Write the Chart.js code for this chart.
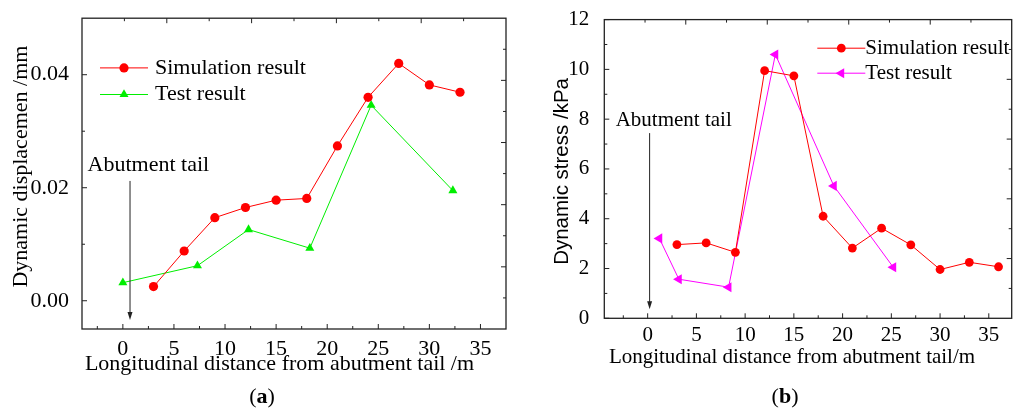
<!DOCTYPE html>
<html>
<head>
<meta charset="utf-8">
<script src="https://cdn.jsdelivr.net/npm/chart.js@4/dist/chart.umd.min.js"></script>
<style>
  body { margin: 0; background: #fff; width: 1026px; height: 410px; overflow: hidden; position: relative; }
  canvas { position: absolute; top: 0; }
  #dispChart { left: 0; }
  #stressChart { left: 513px; }
  .cap { position: absolute; top: 383px; width: 60px; text-align: center; font: 22px 'Liberation Serif', serif; line-height: 26px; color: #000; }
</style>
</head>
<body>
<canvas id="dispChart" width="513" height="410"></canvas>
<canvas id="stressChart" width="513" height="410"></canvas>
<div class="cap" style="left:232px">(<b>a</b>)</div>
<div class="cap" style="left:755px">(<b>b</b>)</div>
<script>
const serif = "'Liberation Serif', 'Times New Roman', serif"
const sans = "'Liberation Sans', Arial, sans-serif"

// (a) dynamic displacement along the road
const dispSimX = [3, 6, 9, 12, 15, 18, 21, 24, 27, 30, 33]
const dispSimY = [0.0025, 0.0088, 0.0147, 0.0165, 0.0178, 0.0181, 0.0274, 0.0360, 0.0420, 0.0382, 0.0369]
const dispTestX = [0, 7.3, 12.3, 18.3, 24.3, 32.3]
const dispTestY = [0.0032, 0.0062, 0.0126, 0.0093, 0.0346, 0.0195]

// (b) dynamic stress along the road
const stressSimX = [3, 6, 9, 12, 15, 18, 21, 24, 27, 30, 33, 36]
const stressSimY = [2.96, 3.03, 2.65, 9.95, 9.74, 4.10, 2.82, 3.62, 2.95, 1.96, 2.25, 2.07]
const stressTestX = [1.2, 3.2, 8.3, 13.1, 19.1, 25.2]
const stressTestY = [3.21, 1.57, 1.25, 10.6, 5.32, 2.05]

// ticks
const xMajor = [0, 5, 10, 15, 20, 25, 30, 35]
const xMinor = [-2.5, 2.5, 7.5, 12.5, 17.5, 22.5, 27.5, 32.5]
const dispYMajor = [0, 0.02, 0.04]
const dispYMinor = [0.01, 0.03]
const stressYMajor = [0, 2, 4, 6, 8, 10, 12]
const stressYMinor = [1, 3, 5, 7, 9, 11]
const mirrorTicks = [1, 2, 3, 4, 5, 6, 7, 8, 9]

const pts = (xs, ys) => xs.map((x, i) => ({x: x, y: ys[i]}))

// frame, inward ticks, axis titles, legend and the abutment arrow
const framePlugin = {
  id: 'frame',
  beforeDatasetsDraw(chart, args, o) {
    const {ctx, chartArea: a, scales} = chart
    ctx.save()
    ctx.strokeStyle = '#222'
    ctx.lineWidth = 1.3
    ctx.strokeRect(a.left, a.top, a.right - a.left, a.bottom - a.top)
    ctx.lineWidth = 1
    ctx.beginPath()
    const vx = (scale, vals, y0, dir, len) => vals.forEach(v => {
      const px = scale.getPixelForValue(v)
      ctx.moveTo(px, y0); ctx.lineTo(px, y0 + dir * len)
    })
    const hy = (scale, vals, x0, dir, len) => vals.forEach(v => {
      const py = scale.getPixelForValue(v)
      ctx.moveTo(x0, py); ctx.lineTo(x0 + dir * len, py)
    })
    vx(scales.x, xMajor, a.bottom, -1, 5)
    vx(scales.x, xMinor, a.bottom, -1, 3)
    hy(scales.y, o.yMajor, a.left, 1, 5)
    hy(scales.y, o.yMinor, a.left, 1, 3)
    mirrorTicks.forEach(v => {
      const len = v % 2 === 0 ? 5 : 3
      const px = scales.x2.getPixelForValue(v)
      ctx.moveTo(px, a.top); ctx.lineTo(px, a.top + len)
      const py = scales.y2.getPixelForValue(v)
      ctx.moveTo(a.right, py); ctx.lineTo(a.right - len, py)
    })
    ctx.stroke()
    ctx.restore()
  },
  afterDraw(chart, args, o) {
    const {ctx, chartArea: a, scales} = chart
    ctx.save()
    ctx.fillStyle = '#000'
    ctx.textBaseline = 'middle'

    // axis titles
    ctx.textAlign = 'center'
    ctx.font = o.titleSize + 'px ' + serif
    ctx.fillText(o.xTitle, (a.left + a.right) / 2 + o.xTitleDx, a.bottom + o.xTitleDy)
    ctx.save()
    ctx.translate(a.left + o.yTitleDx, (a.top + a.bottom) / 2 + o.yTitleDy)
    ctx.rotate(-Math.PI / 2)
    ctx.font = o.yTitleFont
    ctx.fillText(o.yTitle, 0, 0)
    ctx.restore()

    // legend
    ctx.textAlign = 'left'
    ctx.font = o.legendSize + 'px ' + serif
    chart.data.datasets.forEach((ds, i) => {
      const y = a.top + o.legendY + i * o.legendGap
      const x0 = a.left + o.legendX
      ctx.strokeStyle = ds.borderColor
      ctx.lineWidth = 1
      ctx.beginPath()
      ctx.moveTo(x0, y); ctx.lineTo(x0 + 48, y)
      ctx.stroke()
      ctx.fillStyle = ds.pointBackgroundColor
      Chart.helpers.drawPoint(ctx, {
        pointStyle: ds.pointStyle, rotation: ds.pointRotation || 0,
        radius: ds.pointRadius, borderWidth: 0
      }, x0 + 24, y)
      ctx.fillStyle = '#000'
      ctx.fillText(ds.label, x0 + o.legendTextDx, y)
    })

    // abutment tail marker
    const n = o.note
    const ax = scales.x.getPixelForValue(n.x)
    const yTop = scales.y.getPixelForValue(n.yTop)
    const yBot = scales.y.getPixelForValue(n.yBottom)
    ctx.font = o.legendSize + 'px ' + serif
    ctx.fillText('Abutment tail', scales.x.getPixelForValue(n.textX), scales.y.getPixelForValue(n.textY))
    ctx.strokeStyle = '#222'
    ctx.fillStyle = '#222'
    ctx.lineWidth = 1
    ctx.beginPath()
    ctx.moveTo(ax, yTop); ctx.lineTo(ax, yBot - 6)
    ctx.stroke()
    ctx.beginPath()
    ctx.moveTo(ax - 2.5, yBot - 8); ctx.lineTo(ax + 2.5, yBot - 8); ctx.lineTo(ax, yBot)
    ctx.closePath()
    ctx.fill()
    ctx.restore()
  }
}

function makeChart(id, c) {
  const hidden = {display: false}
  return new Chart(document.getElementById(id), {
    type: 'scatter',
    data: {datasets: c.datasets},
    options: {
      responsive: false,
      animation: false,
      layout: {padding: c.padding},
      plugins: {legend: hidden, tooltip: {enabled: false}, frame: c.frame},
      scales: {
        x: {
          type: 'linear', position: 'bottom', min: c.xMin, max: c.xMax,
          grid: hidden, border: hidden,
          afterBuildTicks: s => { s.ticks = xMajor.map(v => ({value: v})) },
          afterFit: s => { s.height = 60 },
          ticks: {font: {family: serif, size: c.tickSize}, color: '#000', padding: c.xTickPad,
                  maxRotation: 0, autoSkip: false, callback: v => String(v)}
        },
        y: {
          type: 'linear', position: 'left', min: c.yMin, max: c.yMax,
          grid: hidden, border: hidden,
          afterBuildTicks: s => { s.ticks = c.yMajor.map(v => ({value: v})) },
          afterFit: s => { s.width = c.yWidth },
          ticks: {font: {family: serif, size: c.tickSize}, color: '#000', padding: c.yTickPad,
                  autoSkip: false, callback: c.yFormat}
        },
        x2: {type: 'linear', position: 'top', min: 0, max: 10, grid: hidden, border: hidden,
             ticks: hidden, afterFit: s => { s.height = 0 }},
        y2: {type: 'linear', position: 'right', min: 0, max: 10, grid: hidden, border: hidden,
             ticks: hidden, afterFit: s => { s.width = 0 }}
      }
    },
    plugins: [framePlugin]
  })
}

makeChart('dispChart', {
  datasets: [
    {label: 'Simulation result', data: pts(dispSimX, dispSimY), showLine: true,
     borderColor: '#ff0000', borderWidth: 1, pointStyle: 'circle', pointRadius: 4.6,
     pointBackgroundColor: '#ff0000', pointBorderWidth: 0},
    {label: 'Test result', data: pts(dispTestX, dispTestY), showLine: true,
     borderColor: '#00ee00', borderWidth: 1, pointStyle: 'triangle', pointRadius: 5.2,
     pointBackgroundColor: '#00ee00', pointBorderWidth: 0}
  ],
  padding: {left: 0, top: 13, right: 7, bottom: 21},
  xMin: -4, xMax: 37.5, yMin: -0.005, yMax: 0.05,
  yMajor: dispYMajor, yWidth: 82, tickSize: 22, xTickPad: -1, yTickPad: 5,
  yFormat: v => v.toFixed(2),
  frame: {
    yMajor: dispYMajor, yMinor: dispYMinor, titleSize: 22,
    xTitle: 'Longitudinal distance from abutment tail /m', xTitleDx: -14.5, xTitleDy: 35,
    yTitle: 'Dynamic displacemen /mm', yTitleFont: '22px ' + serif, yTitleDx: -60.3, yTitleDy: -7,
    legendSize: 22, legendX: 18, legendY: 49.7, legendGap: 26.6, legendTextDx: 55,
    note: {x: 0.7, yTop: 0.0212, yBottom: -0.0034, textX: -3.45, textY: 0.024}
  }
})

makeChart('stressChart', {
  datasets: [
    {label: 'Simulation result', data: pts(stressSimX, stressSimY), showLine: true,
     borderColor: '#ff0000', borderWidth: 1, pointStyle: 'circle', pointRadius: 4.4,
     pointBackgroundColor: '#ff0000', pointBorderWidth: 0},
    {label: 'Test result', data: pts(stressTestX, stressTestY), showLine: true,
     borderColor: '#ff00ff', borderWidth: 1, pointStyle: 'triangle', pointRotation: -90,
     pointRadius: 5.8, pointBackgroundColor: '#ff00ff', pointBorderWidth: 0}
  ],
  padding: {left: 0, top: 14.7, right: 14.3, bottom: 31.7},
  xMin: -4.45, xMax: 37.35, yMin: 0, yMax: 12,
  yMajor: stressYMajor, yWidth: 91.3, tickSize: 21, xTickPad: -3, yTickPad: 7,
  yFormat: v => String(v),
  frame: {
    yMajor: stressYMajor, yMinor: stressYMinor, titleSize: 21,
    xTitle: 'Longitudinal distance from abutment tail/m', xTitleDx: -16, xTitleDy: 39,
    yTitle: 'Dynamic stress /kPa', yTitleFont: '20.5px ' + sans, yTitleDx: -42, yTitleDy: 2.5,
    legendSize: 21, legendX: 213, legendY: 28.6, legendGap: 25, legendTextDx: 48,
    note: {x: 0.2, yTop: 7.44, yBottom: 0.36, textX: -3.28, textY: 7.94}
  }
})
</script>
</body>
</html>
